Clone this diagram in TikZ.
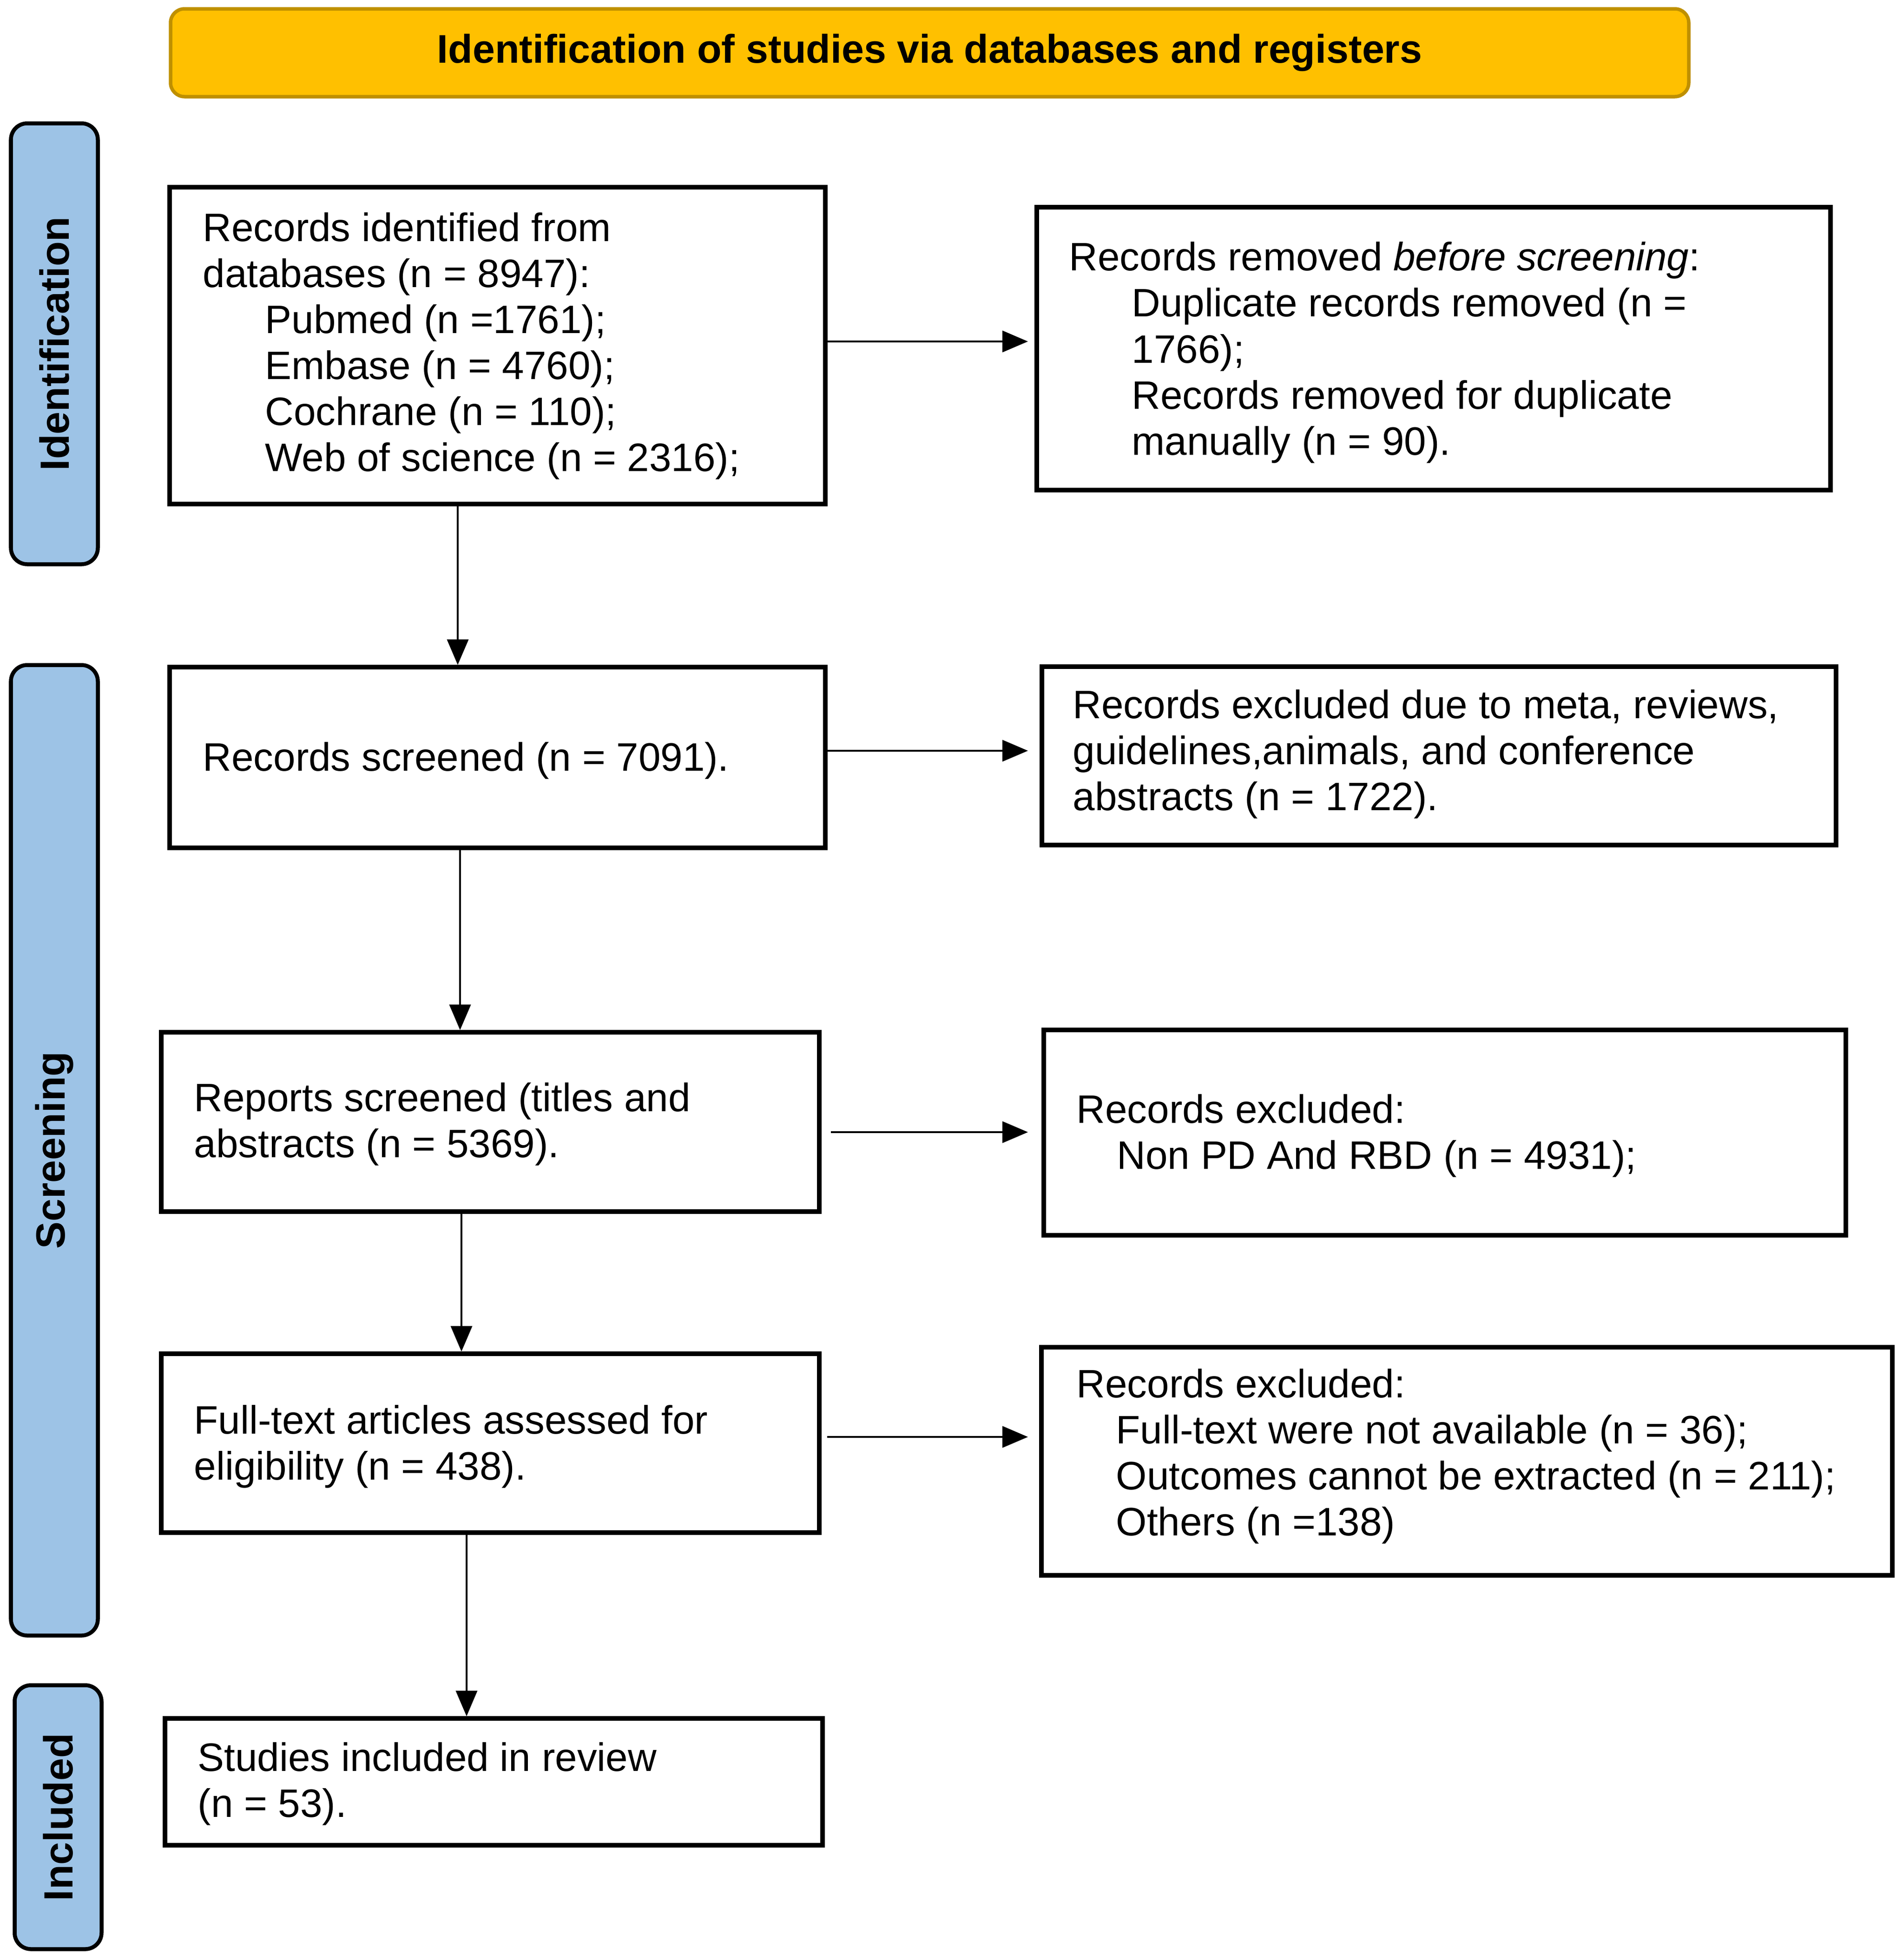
\documentclass[tikz,border=0pt]{standalone}
\usepackage{fontspec}
\setmainfont{Liberation Sans}
\usetikzlibrary{arrows.meta}
\definecolor{bannerfill}{HTML}{FFC000}
\definecolor{bannerdraw}{HTML}{BF9000}
\definecolor{barfill}{HTML}{9DC3E6}
\begin{document}
\begin{tikzpicture}[
  box/.style={draw=black, line width=0.095cm, rectangle, inner sep=0pt, fill=white},
  txt/.style={anchor=west, align=left, inner sep=0pt, font=\fontsize{24.3}{28.2}\selectfont},
  bar/.style={draw=black, line width=0.085cm, fill=barfill, rounded corners=0.35cm, inner sep=0pt, minimum width=1.87cm},
  barlabel/.style={rotate=90, inner sep=0pt, font=\bfseries\fontsize{25}{30}\selectfont},
  arr/.style={draw=black, line width=0.04cm, -{Triangle[length=0.55cm,width=0.46cm]}},
]
\useasboundingbox (0,0) rectangle (40.95,-42.19);

% banner
\node[draw=bannerdraw, fill=bannerfill, line width=0.075cm, rounded corners=0.3cm,
      minimum width=32.67cm, minimum height=1.89cm, inner sep=0pt,
      font=\bfseries\fontsize{24.5}{28}\selectfont] (banner) at (20.005,-1.135)
      {Identification of studies via databases and registers};

% side bars
\node[bar, minimum height=9.49cm] (barid) at (1.17,-7.40) {};
\node[barlabel] (labid) at (barid.center) {Identification};
\node[bar, minimum height=20.89cm] (barsc) at (1.17,-24.76) {};
\node[barlabel] (labsc) at (barsc.center) {Screening};
\node[bar, minimum height=5.68cm] (barin) at (1.25,-39.115) {};
\node[barlabel] (labin) at (barin.center) {Included};

% boxes
\node[box, minimum width=14.11cm, minimum height=6.82cm] (b1) at (10.705,-7.44) {};
\node[box, minimum width=17.08cm, minimum height=6.09cm] (r1) at (30.85,-7.505) {};
\node[box, minimum width=14.11cm, minimum height=3.89cm] (b2) at (10.705,-16.305) {};
\node[box, minimum width=17.09cm, minimum height=3.84cm] (r2) at (30.965,-16.27) {};
\node[box, minimum width=14.16cm, minimum height=3.86cm] (b3) at (10.55,-24.15) {};
\node[box, minimum width=17.26cm, minimum height=4.42cm] (r3) at (31.09,-24.38) {};
\node[box, minimum width=14.16cm, minimum height=3.85cm] (b4) at (10.55,-31.065) {};
\node[box, minimum width=18.31cm, minimum height=4.91cm] (r4) at (31.565,-31.455) {};
\node[box, minimum width=14.15cm, minimum height=2.73cm] (b5) at (10.625,-38.355) {};

% texts
\node[txt] (t1) at (4.36,-7.45) {Records identified from\\databases (n = 8947):\\
  \hspace*{1.34cm}Pubmed (n =1761);\\
  \hspace*{1.34cm}Embase (n = 4760);\\
  \hspace*{1.34cm}Cochrane (n = 110);\\
  \hspace*{1.34cm}Web of science (n = 2316);};
\node[txt] (tr1) at (23.00,-7.59) {Records removed \textit{before screening}:\\
  \hspace*{1.35cm}Duplicate records removed (n =\\
  \hspace*{1.35cm}1766);\\
  \hspace*{1.35cm}Records removed for duplicate\\
  \hspace*{1.35cm}manually (n = 90).};
\node[txt] (t2) at (4.36,-16.37) {Records screened (n = 7091).};
\node[txt] (tr2) at (23.08,-16.23) {Records excluded due to meta, reviews,\\guidelines,animals, and conference\\abstracts (n = 1722).};
\node[txt] (t3) at (4.17,-24.20) {Reports screened (titles and\\abstracts (n = 5369).};
\node[txt] (tr3) at (23.16,-24.45) {Records excluded:\\
  \hspace*{0.87cm}Non PD And RBD (n = 4931);};
\node[txt] (t4) at (4.17,-31.14) {Full-text articles assessed for\\eligibility (n = 438).};
\node[txt] (tr4) at (23.16,-31.35) {Records excluded:\\
  \hspace*{0.85cm}Full-text were not available (n = 36);\\
  \hspace*{0.85cm}Outcomes cannot be extracted (n = 211);\\
  \hspace*{0.85cm}Others (n =138)};
\node[txt] (t5) at (4.25,-38.40) {Studies included in review\\(n = 53).};

% connector coordinates
\coordinate (v1) at (9.85,0);
\coordinate (v2) at (9.90,0);
\coordinate (v3) at (9.93,0);
\coordinate (v4) at (10.04,0);
\coordinate (h1) at (22.12,-7.35);
\coordinate (h2) at (22.12,-16.16);
\coordinate (h3) at (22.12,-24.37);
\coordinate (h4) at (22.12,-30.93);

% vertical arrows
\draw[arr] (b1.south -| v1) -- (b2.north -| v1);
\draw[arr] (b2.south -| v2) -- (b3.north -| v2);
\draw[arr] (b3.south -| v3) -- (b4.north -| v3);
\draw[arr] (b4.south -| v4) -- (b5.north -| v4);

% horizontal arrows
\draw[arr] (b1.east |- h1) -- (h1);
\draw[arr] (b2.east |- h2) -- (h2);
\draw[arr, shorten <=0.2cm] (b3.east |- h3) -- (h3);
\draw[arr, shorten <=0.12cm] (b4.east |- h4) -- (h4);
\end{tikzpicture}
\end{document}
